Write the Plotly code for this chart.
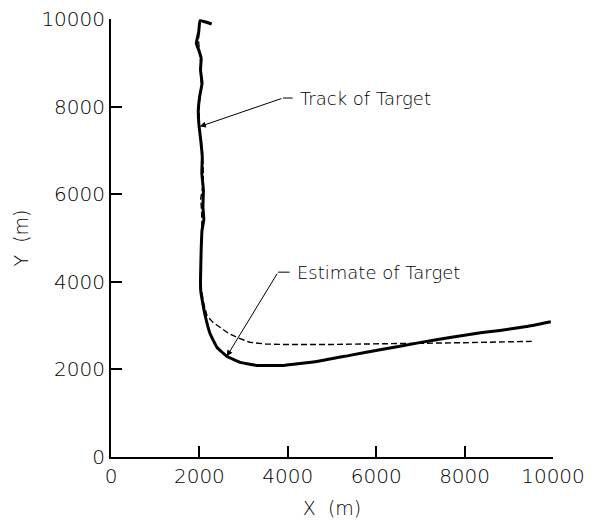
import plotly.graph_objects as go

# Track of target (solid)
track_x = [2278, 2014, 1985, 1930, 1985, 2040, 2025, 2060, 2005, 1975, 1990, 2030, 2065, 2055,
           2090, 2080, 2100, 2060, 2040, 2025, 2030, 2060, 2130, 2240, 2400, 2620, 2920, 3300,
           3900, 4660, 5400, 6150, 6920, 7670, 8400, 8800, 9400, 9950]
track_y = [9886, 9962, 9710, 9445, 9292, 9102, 8836, 8532, 8226, 7922, 7580, 7237, 6856, 6477,
           6096, 5715, 5411, 5183, 4726, 4041, 3800, 3600, 3230, 2820, 2500, 2300, 2160, 2090,
           2090, 2180, 2320, 2460, 2600, 2730, 2840, 2890, 2980, 3090]

# Estimate of target (dashed)
est_x = [2000, 1980, 2030, 2040, 1990, 2000, 2060, 2090, 2080, 2030, 2050, 2060, 2040, 2030,
         2040, 2100, 2170, 2300, 2470, 2650, 2850, 3140, 3500, 3890, 5000, 6000, 7000, 8000,
         9000, 9520]
est_y = [9900, 9500, 9000, 8500, 8000, 7500, 7000, 6500, 6200, 5900, 5600, 5200, 4700, 4200,
         3860, 3500, 3230, 3080, 2950, 2830, 2730, 2620, 2580, 2570, 2570, 2580, 2600, 2610,
         2630, 2640]

x_ticks = [0, 2000, 4000, 6000, 8000, 10000]
y_ticks = [0, 2000, 4000, 6000, 8000, 10000]

FONT = "DejaVu Sans, Liberation Sans, sans-serif"

fig = go.Figure()
fig.add_trace(go.Scatter(x=est_x, y=est_y, mode="lines",
                         line=dict(color="black", width=1.4, dash="6px,3px"),
                         showlegend=False, hoverinfo="skip"))
fig.add_trace(go.Scatter(x=track_x, y=track_y, mode="lines",
                         line=dict(color="black", width=3, shape="spline", smoothing=0.3),
                         showlegend=False, hoverinfo="skip"))

# annotation leaders: (tip), (elbow), label start
ann = [
    dict(label="Track of Target", tip=(2010, 7545), elbow=(3890, 8196), text_x=4230),
    dict(label="Estimate of Target", tip=(2620, 2300), elbow=(3780, 4220), text_x=4160),
]
for a in ann:
    fig.add_annotation(x=a["tip"][0], y=a["tip"][1], ax=a["elbow"][0], ay=a["elbow"][1],
                       axref="x", ayref="y", xref="x", yref="y", text="", showarrow=True,
                       arrowhead=2, arrowsize=1.2, arrowwidth=1, arrowcolor="black")
    fig.add_shape(type="line", x0=a["elbow"][0], y0=a["elbow"][1],
                  x1=a["text_x"] - 120, y1=a["elbow"][1],
                  line=dict(color="black", width=1))
    fig.add_annotation(x=a["text_x"], y=a["elbow"][1], xref="x", yref="y", text=a["label"],
                       showarrow=False, xanchor="left", yanchor="middle",
                       font=dict(family=FONT, size=18, color="#000", weight=300))

axis_common = dict(showline=True, linecolor="black", linewidth=2, ticks="inside",
                   ticklen=11, tickwidth=1.5, tickcolor="black", showgrid=False,
                   zeroline=False, mirror=False, automargin=False,
                   tickfont=dict(family=FONT, size=20, color="#000", weight=300))

fig.update_xaxes(range=[0, 10000], tickvals=x_ticks, ticktext=[str(v) for v in x_ticks],
                 title=dict(text="X  (m)", font=dict(family=FONT, size=19, color="#000", weight=300),
                            standoff=15), **axis_common)
fig.update_yaxes(range=[0, 10000], tickvals=y_ticks, ticktext=[str(v) for v in y_ticks],
                 title=dict(text="Y  (m)", font=dict(family=FONT, size=19, color="#000", weight=300),
                            standoff=8), **axis_common)

fig.update_layout(width=595, height=521, margin=dict(l=111, r=42, t=19, b=64),
                  plot_bgcolor="white", paper_bgcolor="white", showlegend=False)

fig.write_html("out.html")
